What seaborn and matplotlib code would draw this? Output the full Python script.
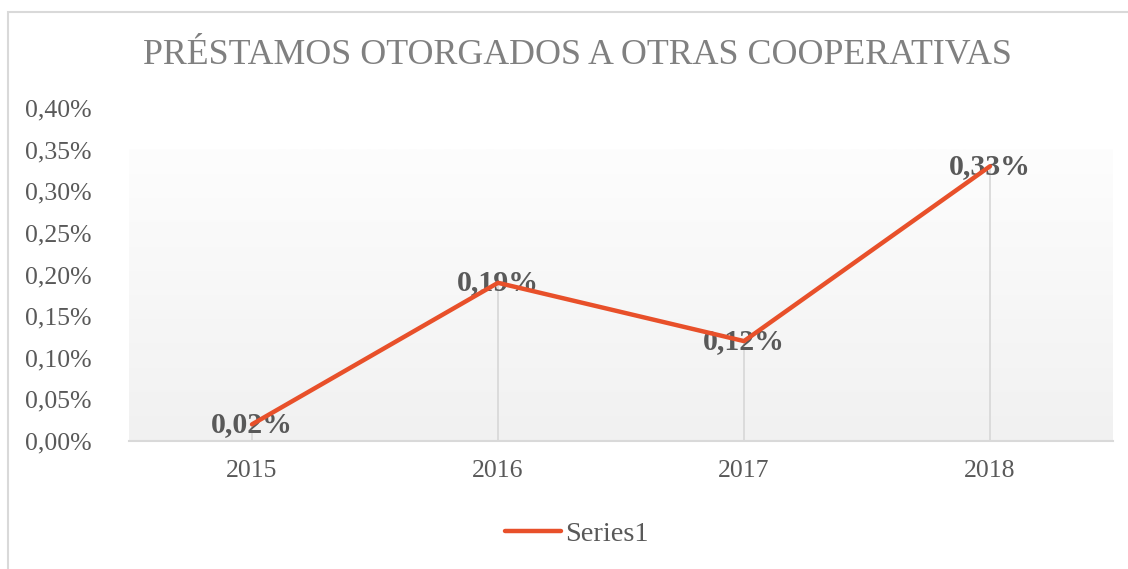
import numpy as np
import pandas as pd
import matplotlib
matplotlib.use("Agg")
import matplotlib.pyplot as plt
import seaborn as sns
from matplotlib.patches import Rectangle

# ---- data ----
years = ["2015", "2016", "2017", "2018"]
values = [0.0002, 0.0019, 0.0012, 0.0033]
labels = ["0,02%", "0,19%", "0,12%", "0,33%"]
yticks = [0.0, 0.0005, 0.0010, 0.0015, 0.0020, 0.0025, 0.0030, 0.0035, 0.0040]
ytick_labels = ["0,00%", "0,05%", "0,10%", "0,15%", "0,20%", "0,25%", "0,30%", "0,35%", "0,40%"]
title = "PRÉSTAMOS OTORGADOS A OTRAS COOPERATIVAS"
series_name = "Series1"

sns.set_theme(style="white")
plt.rcParams["font.family"] = ["Liberation Serif", "DejaVu Serif"]

W, H = 1128, 569
fig = plt.figure(figsize=(W / 100, H / 100), dpi=100)
fig.patch.set_facecolor("white")

# outer chart border (only top and left visible in the crop)
fig.patches.append(Rectangle((8 / W, -0.1), 1.2, 1 - 12 / H + 0.1, transform=fig.transFigure,
                             fill=False, edgecolor="#d9d9d9", linewidth=1.5, zorder=0))

ax = fig.add_axes([129 / W, 1 - 441 / H, (1113 - 129) / W, (441 - 108) / H])

df = pd.DataFrame({"Año": years, "Valor": values, "Serie": series_name})

ymax = 0.0040
# gradient background (light gray at bottom, near white at top)
grad = np.linspace(1, 0, 256).reshape(-1, 1)
cmap = matplotlib.colors.LinearSegmentedColormap.from_list("g", ["#fdfdfd", "#f1f1f1"])
ax.imshow(grad, aspect="auto", cmap=cmap, vmin=0, vmax=1,
          extent=(-0.5, 3.5, 0, 0.0035), origin="lower", zorder=0)

sns.lineplot(data=df, x="Año", y="Valor", hue="Serie", palette=["#E8502A"], linewidth=3.2,
             ax=ax, zorder=5, sort=False)

# drop lines
ax.vlines(range(len(years)), 0, values, colors="#d9d9d9", linewidth=1.3, zorder=2)

for i, (v, lab) in enumerate(zip(values, labels)):
    ax.text(i, v, lab, ha="center", va="center", fontsize=21.5, fontweight="bold",
            color="#595959", zorder=4)

ax.set_xlim(-0.5, 3.5)
ax.set_ylim(0, ymax)
ax.set_yticks(yticks)
ax.set_yticklabels(ytick_labels)
ax.set_xticks(range(len(years)))
ax.set_xticklabels(years)
ax.tick_params(axis="both", length=0, labelsize=18.5, labelcolor="#595959")
ax.tick_params(axis="y", pad=27)
ax.tick_params(axis="x", pad=14)
ax.set_xlabel("")
ax.set_ylabel("")
for s in ["top", "right", "left"]:
    ax.spines[s].set_visible(False)
ax.spines["bottom"].set_color("#d9d9d9")
ax.spines["bottom"].set_linewidth(1.5)
ax.grid(False)

leg = ax.legend(loc="center", bbox_to_anchor=(577 / W, 1 - 534 / H), bbox_transform=fig.transFigure,
                frameon=False, fontsize=20.5, handlelength=1.95, handletextpad=0.15)
for t in leg.get_texts():
    t.set_color("#595959")

fig.text(577 / W, 1 - 55 / H, title, ha="center", va="center", fontsize=25.8, color="#808080")

fig.savefig("out.png", dpi=100)
